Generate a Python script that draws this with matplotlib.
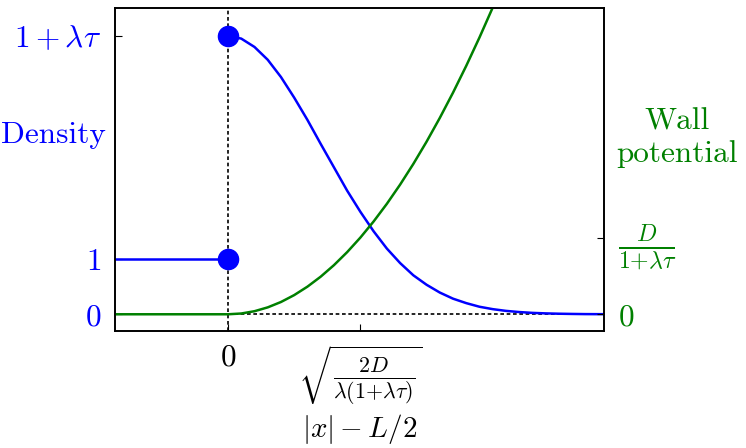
import matplotlib
matplotlib.use("Agg")
import matplotlib.pyplot as plt

plt.rcParams['mathtext.fontset'] = 'cm'
plt.rcParams['font.family'] = ['cmr10', 'DejaVu Serif']
plt.rcParams['axes.unicode_minus'] = False

BLUE = '#0000ff'
GREEN = '#008000'
FS = 22.5

# density (left axis), in units where bulk density = 1 and 1+lambda*tau = 5
x_bulk = [-0.85, 0.0]
rho_bulk = [1.0, 1.0]
x_wall = [0.0, 0.1, 0.2, 0.3, 0.4, 0.5, 0.6, 0.7, 0.8, 0.9, 1.0, 1.1, 1.2, 1.3, 1.4,
          1.5, 1.6, 1.7, 1.8, 1.9, 2.0, 2.1, 2.2, 2.3, 2.4, 2.5, 2.6, 2.7, 2.8, 2.84]
rho_wall = [5.0, 4.95, 4.80, 4.57, 4.26, 3.89, 3.49, 3.06, 2.64, 2.22, 1.84, 1.49, 1.18,
            0.92, 0.70, 0.53, 0.39, 0.28, 0.20, 0.135, 0.092, 0.061, 0.040, 0.025,
            0.016, 0.010, 0.006, 0.003, 0.002, 0.002]
dot_x = [0.0, 0.0]
dot_rho = [1.0, 5.0]

# wall potential (right axis), in units of D/(1+lambda*tau)
x_pot = [-0.85, 0.0, 0.1, 0.2, 0.3, 0.4, 0.5, 0.6, 0.7, 0.8, 0.9, 1.0, 1.1, 1.2, 1.3,
         1.4, 1.5, 1.6, 1.7, 1.8, 1.9, 2.0, 2.1]
pot = [0.0, 0.0, 0.01, 0.04, 0.09, 0.16, 0.25, 0.36, 0.49, 0.64, 0.81, 1.0, 1.21, 1.44,
       1.69, 1.96, 2.25, 2.56, 2.89, 3.24, 3.61, 4.0, 4.41]

left_ticks = [0, 1, 5]
left_labels = ['$0$', '$1$', r'$1+\lambda\tau$']
right_ticks = [0, 1]
right_labels = ['$0$', r'$\frac{D}{1{+}\lambda\tau}$']
x_ticks = [0, 1]
x_labels = ['$0$', r'$\sqrt{\frac{2D}{\lambda(1{+}\lambda\tau)}}$']

fig = plt.figure(figsize=(7.46, 4.48), dpi=100)
ax = fig.add_axes([0.1548, 0.2612, 0.6548, 0.7210])
ax2 = ax.twinx()

ax.set_xlim(-0.85, 2.84)
ax.set_ylim(-0.3, 5.5)
ax2.set_ylim(-0.3 * 0.726, 5.5 * 0.726)

ax.axvline(0, color='k', lw=1.2, dashes=(2.2, 1.6), zorder=1)
ax.plot([0, 2.84], [0, 0], color='k', lw=1.2, dashes=(2.2, 1.6), zorder=1)

ax.plot(x_bulk, rho_bulk, color=BLUE, lw=1.8, zorder=2)
ax.plot(x_wall, rho_wall, color=BLUE, lw=1.8, zorder=2)
ax.plot(dot_x, dot_rho, 'o', color=BLUE, ms=14.5, zorder=3)

ax2.plot(x_pot, pot, color=GREEN, lw=1.8)

for a in (ax, ax2):
    for s in a.spines.values():
        s.set_linewidth(1.2)

ax.set_yticks(left_ticks)
ax.set_yticklabels(left_labels, fontsize=FS, color=BLUE)
ax.tick_params(axis='y', direction='in', length=5, pad=10)
ax.set_xticks(x_ticks)
ax.set_xticklabels(x_labels, fontsize=FS)
ax.tick_params(axis='x', direction='in', length=5, pad=9)
ax2.set_yticks(right_ticks)
ax2.set_yticklabels(right_labels, fontsize=FS, color=GREEN)
ax2.get_yticklabels()[1].set_fontsize(24.5)
ax2.tick_params(axis='y', direction='in', length=5, pad=10)

fig.text(360 / 746, 1 - 437 / 448, r'$|x| - L/2$', fontsize=21,
         ha='center', va='baseline')

fig.text(53 / 746, 1 - 143 / 448, 'Density', color=BLUE, fontsize=FS,
         ha='center', va='baseline')
fig.text(677 / 746, 1 - 130 / 448, 'Wall', color=GREEN, fontsize=FS,
         ha='center', va='baseline')
fig.text(677 / 746, 1 - 162 / 448, 'potential', color=GREEN, fontsize=FS,
         ha='center', va='baseline')

fig.savefig('out.png', dpi=100)
